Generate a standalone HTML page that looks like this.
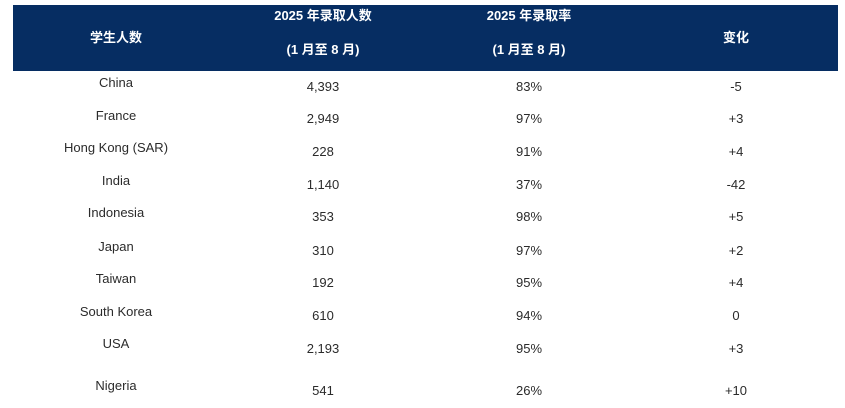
<!DOCTYPE html>
<html>
<head>
<meta charset="utf-8">
<style>
  html, body { margin:0; padding:0; background:#ffffff; }
  body { width:845px; height:408px; position:relative; overflow:hidden;
         font-family:"Liberation Sans","Noto Sans CJK SC",sans-serif; }
  .hdr { position:absolute; left:13px; top:5px; width:825px; height:66px; background:#062d62; }
  .t { position:absolute; width:200px; text-align:center; font-size:13px; line-height:16px; color:#2b2b2b; white-space:nowrap; }
  .h { color:#ffffff; font-weight:bold; font-size:13px; }
  .c1 { left:16px; }
  .c2 { left:223px; }
  .c3 { left:429px; }
  .c4 { left:636px; }
</style>
</head>
<body>
<div class="hdr"></div>
<div class="t h c1" style="top:30px;">学生人数</div>
<div class="t h c2" style="top:8px;">2025 年录取人数</div>
<div class="t h c2" style="top:42px;">(1 月至 8 月)</div>
<div class="t h c3" style="top:8px;">2025 年录取率</div>
<div class="t h c3" style="top:42px;">(1 月至 8 月)</div>
<div class="t h c4" style="top:30px;">变化</div>

<div class="t c1" style="top:75px;">China</div>
<div class="t c2" style="top:79px;">4,393</div>
<div class="t c3" style="top:79px;">83%</div>
<div class="t c4" style="top:79px;">-5</div>

<div class="t c1" style="top:108px;">France</div>
<div class="t c2" style="top:111px;">2,949</div>
<div class="t c3" style="top:111px;">97%</div>
<div class="t c4" style="top:111px;">+3</div>

<div class="t c1" style="top:140px;">Hong Kong (SAR)</div>
<div class="t c2" style="top:144px;">228</div>
<div class="t c3" style="top:144px;">91%</div>
<div class="t c4" style="top:144px;">+4</div>

<div class="t c1" style="top:173px;">India</div>
<div class="t c2" style="top:177px;">1,140</div>
<div class="t c3" style="top:177px;">37%</div>
<div class="t c4" style="top:177px;">-42</div>

<div class="t c1" style="top:205px;">Indonesia</div>
<div class="t c2" style="top:209px;">353</div>
<div class="t c3" style="top:209px;">98%</div>
<div class="t c4" style="top:209px;">+5</div>

<div class="t c1" style="top:239px;">Japan</div>
<div class="t c2" style="top:243px;">310</div>
<div class="t c3" style="top:243px;">97%</div>
<div class="t c4" style="top:243px;">+2</div>

<div class="t c1" style="top:271px;">Taiwan</div>
<div class="t c2" style="top:275px;">192</div>
<div class="t c3" style="top:275px;">95%</div>
<div class="t c4" style="top:275px;">+4</div>

<div class="t c1" style="top:304px;">South Korea</div>
<div class="t c2" style="top:308px;">610</div>
<div class="t c3" style="top:308px;">94%</div>
<div class="t c4" style="top:308px;">0</div>

<div class="t c1" style="top:336px;">USA</div>
<div class="t c2" style="top:341px;">2,193</div>
<div class="t c3" style="top:341px;">95%</div>
<div class="t c4" style="top:341px;">+3</div>

<div class="t c1" style="top:378px;">Nigeria</div>
<div class="t c2" style="top:383px;">541</div>
<div class="t c3" style="top:383px;">26%</div>
<div class="t c4" style="top:383px;">+10</div>
</body>
</html>
